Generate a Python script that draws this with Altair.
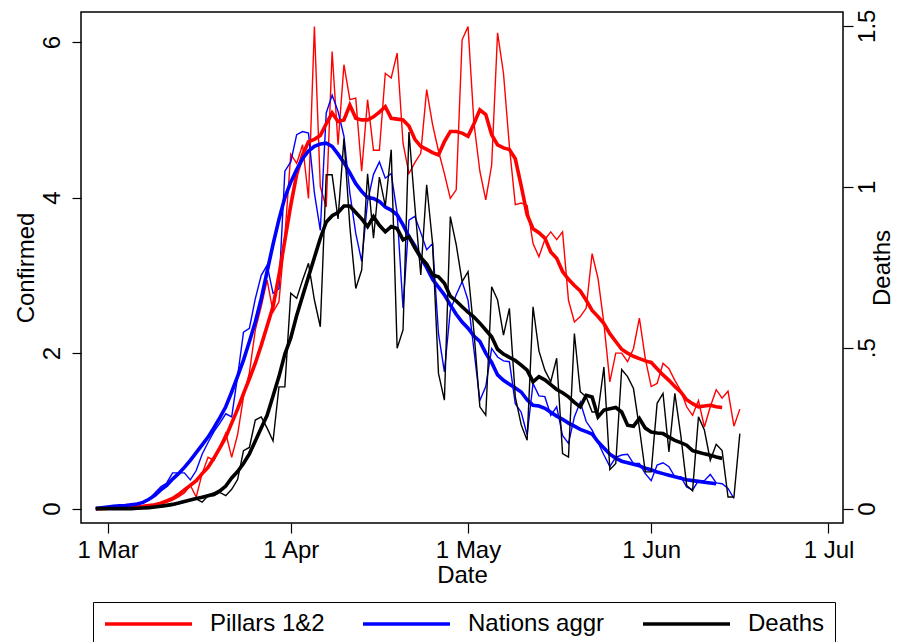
import altair as alt
import pandas as pd

# ---------------- data ----------------
start_date = "2020-02-28"

red_raw = [0, 0, 0, 0.01, 0.01, 0.01, 0.02, 0.02, 0.03, 0.04, 0.05, 0.06,
           0.08, 0.11, 0.15, 0.20, 0.30, 0.15, 0.45, 0.66, 0.62, 0.80,
           0.97, 0.66, 0.95, 1.44, 1.75, 2.30, 2.60, 2.94, 2.53, 2.66,
           3.50, 4.56, 4.44, 4.68, 3.99, 6.20, 4.14, 3.88, 5.88, 4.68,
           5.71, 5.26, 5.28, 4.34, 5.26, 4.61, 4.61, 5.60, 5.54, 5.86,
           4.70, 4.31, 4.45, 4.57, 5.39, 4.94, 4.60, 4.31, 3.99, 4.10,
           6.03, 6.20, 4.96, 4.34, 3.97, 4.42, 6.12, 5.60, 4.66, 3.91,
           3.93, 3.90, 3.41, 3.24, 3.46, 3.56, 3.46, 3.56, 2.68, 2.40,
           2.47, 2.58, 3.28, 2.96, 2.38, 1.63, 2.00, 2.00, 1.89, 2.06,
           2.45, 1.93, 1.57, 1.61, 1.87, 1.80, 1.65, 1.52, 1.31, 1.20,
           1.39, 1.05, 1.31, 1.53, 1.42, 1.51, 1.06, 1.28]

red_smooth = [0, 0, 0.005, 0.01, 0.01, 0.015, 0.02, 0.025, 0.03, 0.04, 0.05, 0.07,
              0.10, 0.13, 0.18, 0.24, 0.30, 0.36, 0.45, 0.53, 0.65, 0.78,
              0.92, 1.10, 1.28, 1.48, 1.67, 1.87, 2.10, 2.35, 2.60, 3.00,
              3.45, 3.90, 4.30, 4.55, 4.72, 4.75, 4.80, 4.95, 5.09, 4.98,
              5.00, 5.19, 5.02, 5.00, 5.00, 5.04, 5.10, 5.17, 5.02, 5.01,
              5.00, 4.92, 4.75, 4.66, 4.62, 4.58, 4.55, 4.72, 4.85, 4.85,
              4.83, 4.79, 4.95, 5.13, 5.07, 4.81, 4.68, 4.64, 4.62, 4.50,
              4.15, 3.78, 3.60, 3.55, 3.48, 3.30, 3.22, 3.05, 2.95, 2.87,
              2.80, 2.68, 2.55, 2.47, 2.38, 2.25, 2.15, 2.05, 2.00, 1.96,
              1.93, 1.90, 1.88, 1.80, 1.72, 1.65, 1.57, 1.50, 1.40, 1.35,
              1.31, 1.32, 1.33, 1.31, 1.30]

blue_raw = [0, 0.01, 0.02, 0.03, 0.03, 0.04, 0.05, 0.06, 0.08, 0.12, 0.20, 0.28,
            0.33, 0.46, 0.46, 0.46, 0.37, 0.49, 0.70, 0.85, 0.99, 1.10,
            1.22, 1.18, 1.70, 2.27, 2.32, 2.70, 3.00, 3.13, 2.77, 2.83,
            4.34, 4.46, 4.81, 4.85, 4.83, 4.06, 3.58, 5.09, 5.32, 5.11,
            4.79, 4.06, 3.54, 3.18, 3.95, 4.30, 4.46, 4.25, 4.31, 3.80,
            2.58, 3.71, 3.76, 3.55, 3.33, 3.41, 2.25, 1.76, 2.55, 2.75,
            2.92, 2.68, 2.04, 1.39, 1.57, 2.06, 1.95, 1.90, 1.89, 1.35,
            1.24, 0.95, 1.61, 1.45, 1.44, 1.20, 1.31, 0.94, 0.84, 1.18,
            1.37, 1.12, 1.01, 0.85, 0.69, 0.54, 0.66, 0.69, 0.70, 0.58,
            0.58, 0.45, 0.36, 0.56, 0.59, 0.54, 0.41, 0.41, 0.28, 0.24,
            0.36, 0.36, 0.44, 0.33, 0.32, 0.26, 0.13]

blue_smooth = [0, 0.01, 0.02, 0.03, 0.035, 0.04, 0.05, 0.06, 0.08, 0.12, 0.17, 0.24,
               0.30, 0.38, 0.45, 0.53, 0.62, 0.72, 0.82, 0.92, 1.04, 1.17,
               1.31, 1.50, 1.70, 1.91, 2.15, 2.40, 2.70, 3.05, 3.40, 3.72,
               4.00, 4.20, 4.36, 4.50, 4.60, 4.66, 4.69, 4.70, 4.66, 4.56,
               4.45, 4.32, 4.18, 4.08, 4.00, 3.99, 3.95, 3.88, 3.84, 3.78,
               3.65, 3.50, 3.38, 3.23, 3.10, 2.95, 2.85, 2.75, 2.62, 2.50,
               2.40, 2.32, 2.22, 2.15, 2.00, 1.88, 1.72, 1.65, 1.60, 1.55,
               1.50, 1.40, 1.33, 1.32, 1.29, 1.24, 1.19, 1.15, 1.10, 1.06,
               1.02, 0.99, 0.96, 0.86, 0.78, 0.70, 0.65, 0.61, 0.59, 0.57,
               0.55, 0.52, 0.50, 0.47, 0.45, 0.43, 0.41, 0.39, 0.37, 0.36,
               0.35, 0.34, 0.33, 0.32]

deaths_raw = [0, 0, 0, 0, 0, 0, 0, 0, 0.003, 0.003, 0.005, 0.005,
              0.008, 0.01, 0.015, 0.02, 0.025, 0.03, 0.02, 0.04, 0.04, 0.05,
              0.04, 0.06, 0.09, 0.18, 0.19, 0.275, 0.285, 0.25, 0.21, 0.378,
              0.378, 0.669, 0.653, 0.71, 0.762, 0.648, 0.565, 1.037, 1.037, 0.90,
              1.15, 0.876, 0.684, 0.741, 1.04, 0.84, 1.03, 0.94, 1.115, 0.498,
              0.555, 1.17, 0.94, 0.726, 1.006, 0.824, 0.42, 0.337, 0.907, 0.82,
              0.705, 0.736, 0.55, 0.316, 0.29, 0.689, 0.648, 0.539, 0.622, 0.347,
              0.26, 0.212, 0.627, 0.49, 0.43, 0.394, 0.467, 0.171, 0.16, 0.544,
              0.363, 0.347, 0.30, 0.30, 0.44, 0.121, 0.14, 0.432, 0.41, 0.373,
              0.25, 0.114, 0.114, 0.327, 0.358, 0.176, 0.358, 0.228, 0.072, 0.055,
              0.285, 0.244, 0.15, 0.20, 0.18, 0.036, 0.036, 0.233]

deaths_smooth = [0, 0, 0, 0, 0, 0, 0, 0.001, 0.002, 0.003, 0.005, 0.007,
                 0.01, 0.013, 0.017, 0.022, 0.027, 0.031, 0.035, 0.04, 0.045, 0.055,
                 0.07, 0.095, 0.115, 0.14, 0.17, 0.21, 0.25, 0.29, 0.35, 0.41,
                 0.48, 0.53, 0.60, 0.66, 0.72, 0.78, 0.84, 0.89, 0.91, 0.92,
                 0.94, 0.94, 0.92, 0.90, 0.876, 0.907, 0.88, 0.86, 0.876, 0.87,
                 0.835, 0.845, 0.81, 0.78, 0.76, 0.726, 0.72, 0.70, 0.66, 0.645,
                 0.627, 0.61, 0.595, 0.576, 0.555, 0.534, 0.495, 0.48, 0.47, 0.46,
                 0.446, 0.43, 0.394, 0.41, 0.40, 0.385, 0.37, 0.36, 0.347, 0.33,
                 0.316, 0.352, 0.347, 0.285, 0.306, 0.31, 0.314, 0.30, 0.259, 0.256,
                 0.28, 0.25, 0.238, 0.235, 0.233, 0.222, 0.212, 0.205, 0.197, 0.18,
                 0.175, 0.17, 0.166, 0.16, 0.156]

series_names = ["Pillars 1&2", "Nations aggr", "Deaths"]
series_colors = ["#ff0000", "#0000ff", "#000000"]

x_tick_dates = [(2020, 3, 1), (2020, 4, 1), (2020, 5, 1), (2020, 6, 1), (2020, 7, 1)]
left_ticks = [0, 2, 4, 6]
right_ticks = [0, 0.5, 1, 1.5]
right_tick_labels = ["0", ".5", "1", "1.5"]

FONT = "Liberation Sans"
FS = 24


def frame(name, vals):
    dates = pd.date_range(start_date, periods=len(vals), freq="D").strftime("%Y-%m-%d")
    return pd.DataFrame({"date": list(dates), "value": vals, "series": name})


left_raw_df = pd.concat([frame("Pillars 1&2", red_raw), frame("Nations aggr", blue_raw)])
left_sm_df = pd.concat([frame("Pillars 1&2", red_smooth), frame("Nations aggr", blue_smooth)])
death_raw_df = frame("Deaths", deaths_raw)
death_sm_df = frame("Deaths", deaths_smooth)

x_enc = alt.X(
    "date:T",
    title="Date",
    scale=alt.Scale(
        type="utc",
        domain=[alt.DateTime(year=2020, month=2, date=25, hours=12, utc=True),
                alt.DateTime(year=2020, month=7, date=3, hours=11, utc=True)],
        nice=False,
    ),
    axis=alt.Axis(
        values=[alt.DateTime(year=y, month=m, date=d, utc=True) for (y, m, d) in x_tick_dates],
        labelExpr="utcFormat(datum.value, '%-d %b')",
        grid=False, domain=False, tickSize=10, tickColor="black", tickWidth=1.2,
        labelFontSize=FS, labelFont=FONT, labelColor="black", labelPadding=5.5,
        labelBaseline="top", labelAlign="center", labelAngle=0,
        titleFontSize=FS, titleFont=FONT, titleFontWeight="normal", titleColor="black",
        titleBaseline="alphabetic", titleY=59,
    ),
)

left_y = alt.Y(
    "value:Q",
    title="Confirmed",
    scale=alt.Scale(domain=[-0.185, 6.388], nice=False, zero=False),
    axis=alt.Axis(
        orient="left", values=left_ticks, grid=False, domain=False,
        tickSize=9, tickColor="black", tickWidth=1.2,
        labelAngle=270, labelAlign="center", labelBaseline="alphabetic", labelPadding=12.5,
        labelFontSize=FS, labelFont=FONT, labelColor="black",
        titleFontSize=FS, titleFont=FONT, titleFontWeight="normal", titleColor="black",
        titleAngle=270, titleAlign="center", titleBaseline="alphabetic",
        titleX=-48, titleY=255.5,
    ),
)

label_expr = " : ".join(
    f"datum.value == {v} ? '{l}'" for v, l in zip(right_ticks, right_tick_labels)
) + " : ''"

right_y = alt.Y(
    "value:Q",
    title="Deaths",
    scale=alt.Scale(domain=[-0.0448, 1.5428], nice=False, zero=False),
    axis=alt.Axis(
        orient="right", values=right_ticks, labelExpr=label_expr, grid=False, domain=False,
        tickSize=10, tickColor="black", tickWidth=1.2,
        labelAngle=270, labelAlign="center", labelBaseline="top", labelPadding=2,
        labelFontSize=FS, labelFont=FONT, labelColor="black",
        titleFontSize=FS, titleFont=FONT, titleFontWeight="normal", titleColor="black",
        titleAngle=270, titleAlign="center", titleBaseline="alphabetic",
        titleX=46, titleY=255.5,
    ),
)

color_enc = alt.Color(
    "series:N",
    scale=alt.Scale(domain=series_names, range=series_colors),
    legend=alt.Legend(
        title=None, orient="none", legendX=12, legendY=590, direction="horizontal",
        columns=3, symbolType="stroke", symbolSize=7569, symbolStrokeWidth=3.5,
        clipHeight=24,
        labelFontSize=FS, labelFont=FONT, labelColor="black", labelLimit=0,
        labelOffset=16, columnPadding=36, padding=10,
        strokeColor="black", fillColor="white",
    ),
)

THIN = 1.4
THICK = 3.6

left_thin = alt.Chart(left_raw_df).mark_line(strokeWidth=THIN).encode(x=x_enc, y=left_y, color=color_enc)
left_thick = alt.Chart(left_sm_df).mark_line(strokeWidth=THICK).encode(x=x_enc, y=left_y, color=color_enc)
right_thin = alt.Chart(death_raw_df).mark_line(strokeWidth=THIN).encode(x=x_enc, y=right_y, color=color_enc)
right_thick = alt.Chart(death_sm_df).mark_line(strokeWidth=THICK).encode(x=x_enc, y=right_y, color=color_enc)

left = alt.layer(left_thin, left_thick)
right = alt.layer(right_thin, right_thick)

chart = (
    alt.layer(left, right)
    .resolve_scale(y="independent")
    .properties(
        width=762, height=511,
        autosize=alt.AutoSizeParams(type="none"),
        padding={"left": 73, "top": 4, "right": 52, "bottom": 122},
    )
    .configure(font=FONT, background="white")
    .configure_view(stroke="black", strokeWidth=1.5)
)

chart.save("out.html", embed_options={"renderer": "svg", "actions": False})
